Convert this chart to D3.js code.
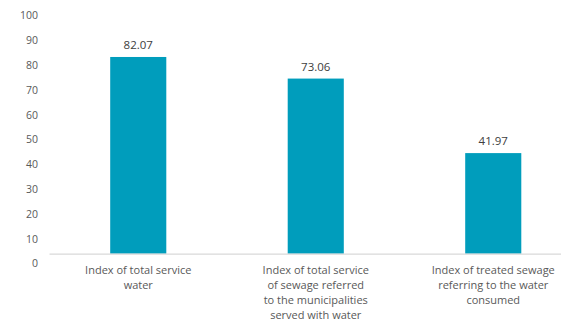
<!DOCTYPE html>
<html>
<head>
<meta charset="utf-8">
<script src="https://cdn.jsdelivr.net/npm/d3@7/dist/d3.min.js"></script>
<style>
  html, body { margin: 0; padding: 0; background: #fff; }
  svg { display: block; font-family: "Open Sans", "Liberation Sans", sans-serif; }
</style>
</head>
<body>
<svg id="chart" width="561" height="323"></svg>
<script>
// Sanitation indices (%)
const categories = [
  ["Index of total service", "water"],
  ["Index of total service", "of sewage referred", "to the municipalities", "served with water"],
  ["Index of treated sewage", "referring to the water", "consumed"]
];
const values = [82.07, 73.06, 41.97];
const tickValues = [0, 10, 20, 30, 40, 50, 60, 70, 80, 90, 100];

const svg = d3.select("#chart");

const x = d3.scaleBand()
  .domain(d3.range(categories.length))
  .range([49.5, 582])
  .paddingInner(0.684)
  .paddingOuter(0.342);

// bar scale
const y = d3.scaleLinear().domain([0, 100]).range([253.7, 14]);
// tick label scale
const yLab = d3.scaleLinear().domain([0, 100]).range([263.5, 15.5]);

// value axis labels
const yAxis = d3.axisLeft(yLab).tickValues(tickValues).tickSize(0).tickPadding(0);
const ga = svg.append("g").attr("transform", "translate(38,0)").call(yAxis);
ga.select(".domain").remove();
ga.selectAll("text")
  .attr("fill", "#595959")
  .style("font-size", "10.5px")
  .style("font-family", "'Open Sans', 'Liberation Sans', sans-serif");

// bars
svg.append("g").selectAll("rect")
  .data(values)
  .join("rect")
  .attr("x", (d, i) => x(i))
  .attr("width", x.bandwidth())
  .attr("y", d => y(d))
  .attr("height", d => y(0) - y(d))
  .attr("fill", "#009dbc");

// category axis line
svg.append("line")
  .attr("x1", 49.5).attr("x2", 582)
  .attr("y1", y(0) + 0.5).attr("y2", y(0) + 0.5)
  .attr("stroke", "#d9d9d9")
  .attr("stroke-width", 1.2);

// value labels
svg.append("g").selectAll("text")
  .data(values)
  .join("text")
  .attr("x", (d, i) => x(i) + x.bandwidth() / 2)
  .attr("y", d => y(d) - 8)
  .attr("text-anchor", "middle")
  .attr("fill", "#404040")
  .style("font-size", "11.5px")
  .text(d => d.toFixed(2));

// category labels
const cl = svg.append("g").selectAll("text")
  .data(categories)
  .join("text")
  .attr("text-anchor", "middle")
  .attr("fill", "#595959")
  .style("font-size", "11px")
  .attr("transform", (d, i) => `translate(${x(i) + x.bandwidth() / 2},274)`);
cl.selectAll("tspan")
  .data(d => d)
  .join("tspan")
  .attr("x", 0)
  .attr("dy", (d, j) => j === 0 ? 0 : 15)
  .text(d => d);
</script>
</body>
</html>
